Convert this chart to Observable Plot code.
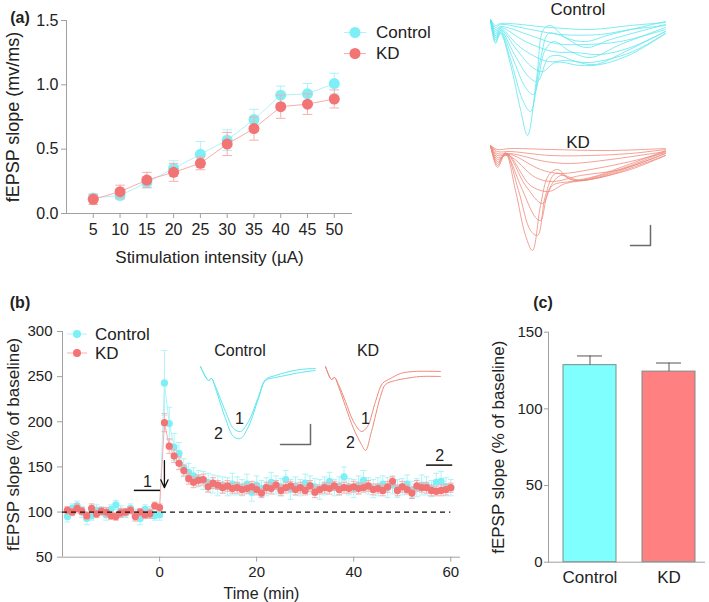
<!DOCTYPE html>
<html>
<head>
<meta charset="utf-8">
<script src="https://cdn.jsdelivr.net/npm/d3@7"></script>
<script src="https://cdn.jsdelivr.net/npm/@observablehq/plot@0.6"></script>
<style>
  html,body{margin:0;padding:0;background:#fff;}
  #fig{position:relative;width:709px;height:602px;overflow:hidden;background:#fff;
       font-family:"Liberation Sans",Arial,Helvetica,sans-serif;color:#222;}
</style>
</head>
<body>
<div id="fig"></div>
<script>
// ================= DATA =================
const groups = ["Control", "KD"];

// (a) input-output curve
const intensities   = [5, 10, 15, 20, 25, 30, 35, 40, 45, 50];
const ioControl     = [0.12, 0.14, 0.24, 0.35, 0.46, 0.57, 0.73, 0.92, 0.93, 1.01];
const ioControlErr  = [0.03, 0.03, 0.04, 0.06, 0.10, 0.08, 0.08, 0.07, 0.08, 0.08];
const ioKD          = [0.11, 0.17, 0.26, 0.32, 0.39, 0.54, 0.66, 0.83, 0.85, 0.89];
const ioKDErr       = [0.04, 0.05, 0.06, 0.07, 0.05, 0.09, 0.09, 0.09, 0.08, 0.07];
const ioTicksY      = [0, 0.5, 1.0, 1.5];

// (b) LTP time course
const ltpTime = [-19,-18,-17,-16,-15,-14,-13,-12,-11,-10,-9,-8,-7,-6,-5,-4,-3,-2,-1,0,
  1,2,3,4,5,6,7,8,9,10,11,12,13,14,15,16,17,18,19,20,
  21,22,23,24,25,26,27,28,29,30,31,32,33,34,35,36,37,38,39,40,
  41,42,43,44,45,46,47,48,49,50,51,52,53,54,55,56,57,58,59,60];
const ltpControl = [95,104,107,100,93,96,102,101,97,103,108,101,99,104,97,93,103,100,96,97,
  243,198,172,165,149,144,140,137,135,133,
  131,129,130,128,131,129,127,131,122,130,
  126,128,133,130,128,136,125,129,127,132,
  130,128,125,129,134,127,129,139,128,126,
  130,135,129,126,128,131,127,130,126,128,
  131,125,127,130,129,126,133,134,128,127];
const ltpControlErr = [6,5,5,6,7,5,6,5,6,5,5,6,5,5,6,7,5,6,5,6,
  36,18,15,12,10,10,9,9,10,10,
  10,11,9,10,12,10,9,11,10,10,
  9,10,11,10,9,10,11,10,9,10,
  10,9,11,10,10,9,10,11,9,10,
  10,11,9,10,10,9,11,10,10,9,
  10,9,10,11,10,9,10,11,10,9];
const ltpKD = [102,100,104,101,96,104,98,101,100,96,95,99,100,102,95,100,97,98,107,105,
  199,173,162,154,146,137,133,135,136,128,
  132,130,127,129,126,127,125,126,128,125,
  121,127,126,130,124,127,129,125,127,124,
  129,122,125,127,126,129,125,127,126,128,
  126,127,129,125,126,124,128,134,124,128,
  125,121,129,127,127,124,123,124,125,127];
const ltpKDErr = [4,4,5,4,4,5,4,4,5,4,4,5,4,4,5,4,4,5,4,4,
  10,8,7,7,6,6,6,6,6,6,
  6,5,6,6,5,6,6,5,6,6,
  5,6,6,5,6,6,5,6,6,5,
  6,6,5,6,6,5,6,6,5,6,
  6,5,6,6,5,6,6,5,6,6,
  5,6,6,5,6,6,5,6,6,5];
const ltpTicksX = [0, 20, 40, 60];
const ltpTicksY = [50, 100, 150, 200, 250, 300];
const baselineLevel = [100];
const periodMarks = [
  {label: "1", t1: -5.2, t2: 0.2, y: 124},
  {label: "2", t1: 55, t2: 60.4, y: 152}
];
const hfsArrow = [{t: 1, from: 157, to: 127}];

// (c) bar chart
const barMean = [128.5, 124.3];
const barErr  = [6.0, 5.6];
const barTicksY = [0, 50, 100, 150];

// example traces [ms, mV]
const ioTracesControl = [
  [[0,0],[0.5,-0.06],[1,-0.04],[6,-0.08],[10,-0.1],[14,-0.06],[17.5,-0.03]],
  [[0,0],[0.5,-0.08],[1,-0.05],[4,-0.1],[7,-0.15],[11,-0.15],[14,-0.1],[17.5,-0.06]],
  [[0,0],[0.5,-0.1],[1,-0.07],[4,-0.16],[6.5,-0.24],[9.5,-0.25],[13,-0.22],[17.5,-0.1]],
  [[0,0],[0.5,-0.12],[1,-0.08],[3.5,-0.22],[6.2,-0.32],[8.5,-0.33],[11,-0.35],[14,-0.28],[17.5,-0.12]],
  [[0,0],[0.5,-0.14],[1,-0.09],[3,-0.28],[5.7,-0.42],[7.5,-0.41],[10,-0.43],[14,-0.33],[17.5,-0.14]],
  [[0,0],[0.5,-0.16],[1,-0.1],[2.6,-0.3],[4.2,-0.48],[5.2,-0.52],[6.5,-0.43],[9,-0.46],[11,-0.45],[14,-0.35],[17.5,-0.14]],
  [[0,0],[0.5,-0.18],[1,-0.11],[2.4,-0.35],[3.8,-0.57],[4.7,-0.62],[5.8,-0.38],[6.8,-0.36],[8.5,-0.42],[10.5,-0.45],[13.5,-0.32],[17.5,-0.12]],
  [[0,0],[0.5,-0.2],[1,-0.12],[2.2,-0.38],[3.5,-0.68],[4.3,-0.75],[5.4,-0.32],[6.3,-0.22],[8,-0.32],[10,-0.38],[13,-0.25],[17.5,-0.08]],
  [[0,0],[0.5,-0.22],[1,-0.13],[2,-0.4],[3.2,-0.8],[4,-0.92],[5,-0.4],[5.8,-0.14],[7,-0.16],[9.5,-0.28],[12,-0.2],[17.5,-0.05]],
  [[0,0],[0.5,-0.24],[1,-0.14],[2,-0.45],[3,-0.9],[3.7,-1.16],[4.6,-0.6],[5.3,-0.1],[6,-0.06],[7.5,-0.18],[9.5,-0.22],[12,-0.15],[17.5,-0.02]]
];
const ioTracesKD = [
  [[0,0],[0.7,-0.04],[2,-0.03],[6,-0.04],[12,-0.05],[17.5,-0.03]],
  [[0,0],[0.7,-0.06],[2,-0.06],[6,-0.1],[10,-0.1],[14,-0.08],[17.5,-0.04]],
  [[0,0],[0.7,-0.08],[2,-0.08],[5.5,-0.16],[8,-0.18],[12,-0.14],[17.5,-0.06]],
  [[0,0],[0.7,-0.1],[2,-0.09],[5,-0.24],[7,-0.28],[10,-0.24],[14,-0.16],[17.5,-0.07]],
  [[0,0],[0.7,-0.12],[1.8,-0.1],[4.5,-0.32],[6.2,-0.36],[9,-0.3],[13,-0.24],[17.5,-0.08]],
  [[0,0],[0.7,-0.14],[1.7,-0.09],[4,-0.4],[5.8,-0.46],[7.5,-0.38],[10,-0.34],[14,-0.24],[17.5,-0.1]],
  [[0,0],[0.7,-0.16],[1.6,-0.08],[3.5,-0.4],[5.2,-0.58],[6.2,-0.4],[8,-0.36],[11,-0.32],[17.5,-0.1]],
  [[0,0],[0.7,-0.18],[1.5,-0.08],[3,-0.4],[4.5,-0.72],[5,-0.75],[5.8,-0.45],[7,-0.3],[9,-0.35],[12,-0.28],[17.5,-0.08]],
  [[0,0],[0.7,-0.2],[1.5,-0.07],[2.8,-0.45],[4,-0.85],[4.7,-0.9],[5.5,-0.5],[6.5,-0.28],[8.5,-0.35],[11,-0.3],[14,-0.2],[17.5,-0.06]],
  [[0,0],[0.7,-0.22],[1.5,-0.08],[2.5,-0.45],[3.5,-0.9],[4.2,-1.05],[5,-0.6],[5.8,-0.3],[6.7,-0.24],[8,-0.34],[10,-0.32],[13,-0.22],[17.5,-0.05]]
];
const ltpTracesControl = [
  [[0,0],[0.8,-0.14],[1.1,-0.12],[1.5,-0.2],[2.5,-0.45],[3.3,-0.62],[4,-0.65],[4.8,-0.55],[5.8,-0.3],[6.5,-0.13],[7.5,-0.09],[8.5,-0.06],[10,-0.03],[11.5,-0.02]],
  [[0,0],[0.8,-0.14],[1.1,-0.12],[1.5,-0.22],[2.5,-0.52],[3.3,-0.7],[4,-0.72],[4.8,-0.6],[5.8,-0.32],[6.5,-0.14],[7.5,-0.11],[8.5,-0.09],[10,-0.06],[11.5,-0.04]]
];
const ltpTracesKD = [
  [[0,0],[0.6,-0.13],[0.9,-0.11],[1.3,-0.18],[2,-0.35],[2.8,-0.55],[3.6,-0.65],[4.2,-0.6],[5,-0.35],[5.7,-0.17],[6.5,-0.12],[7.5,-0.07],[8.8,-0.05],[11.5,-0.05]],
  [[0,0],[0.6,-0.13],[0.9,-0.11],[1.3,-0.2],[2,-0.4],[2.8,-0.62],[3.6,-0.78],[4,-0.84],[4.6,-0.65],[5.5,-0.3],[6,-0.18],[7,-0.14],[8,-0.12],[9.5,-0.1],[11.5,-0.1]]
];
const ioScaleBar  = [[14, -1.0], [16, -1.0], [16, -0.8]];
const ltpScaleBar = [[8, -0.78], [11, -0.78], [11, -0.58]];
const ltpTraceLabelsControl = [{t: 3.9, v: -0.52, text: "1"}, {t: 1.8, v: -0.67, text: "2"}];
const ltpTraceLabelsKD      = [{t: 4.0, v: -0.52, text: "1"}, {t: 2.5, v: -0.76, text: "2"}];

// ================= STYLE =================
const FONT = '"Liberation Sans", Arial, Helvetica, sans-serif';
const axisGray = "#a0a0a0";
const dotColor   = {Control: "#7DEFF6", KD: "#F27474"};
const lightColor = {Control: "#AEF4F8", KD: "#F6AEAE"};
const traceColor = {Control: "#5DE7EF", KD: "#EF8A7C"};
const barFill    = {Control: "#80FFFF", KD: "#FF8080"};

const fig = document.getElementById("fig");
const style = (size) => ({fontFamily: FONT, fontSize: size + "px", color: "#222", background: "transparent", overflow: "visible"});
function place(el, left, top) {
  el.style.position = "absolute"; el.style.left = left + "px"; el.style.top = top + "px";
  fig.append(el);
}
function addText(txt, x, y, size, {anchor = "middle", bold = false} = {}) {
  const el = document.createElement("div");
  el.textContent = txt;
  el.style.cssText = `position:absolute;left:${x}px;top:${y}px;font-size:${size}px;line-height:1;white-space:nowrap;` +
    `transform:translate(${anchor === "start" ? 0 : -50}%,-50%);font-weight:${bold ? "bold" : "normal"};`;
  fig.append(el);
}
function addLegendRow(cx, cy, r, half, g) {
  const ns = "http://www.w3.org/2000/svg";
  const svg = document.createElementNS(ns, "svg");
  svg.setAttribute("width", 2 * half + 2); svg.setAttribute("height", 2 * r + 4);
  svg.innerHTML = `<line x1="1" x2="${2 * half + 1}" y1="${r + 2}" y2="${r + 2}" stroke="${lightColor[g]}" stroke-width="1"/>` +
    `<circle cx="${half + 1}" cy="${r + 2}" r="${r}" fill="${dotColor[g]}"/>`;
  svg.style.position = "absolute"; svg.style.left = (cx - half - 1) + "px"; svg.style.top = (cy - r - 2) + "px";
  fig.append(svg);
}

function seriesMarks(rows, g, radius, capHalf) {
  const d = rows.filter(r => r.g === g);
  const c = lightColor[g];
  return [
    Plot.ruleX(d, {x: "x", y1: r => r.y - r.e, y2: r => r.y + r.e, stroke: c, strokeWidth: 1}),
    Plot.link(d, {x1: r => r.x - capHalf, x2: r => r.x + capHalf, y1: r => r.y + r.e, y2: r => r.y + r.e, stroke: c}),
    Plot.link(d, {x1: r => r.x - capHalf, x2: r => r.x + capHalf, y1: r => r.y - r.e, y2: r => r.y - r.e, stroke: c}),
    Plot.line(d, {x: "x", y: "y", stroke: c, strokeWidth: 1}),
    Plot.dot(d, {x: "x", y: "y", r: radius, fill: dotColor[g], stroke: "none"})
  ];
}
const yTitle = (text, dx, size) => Plot.text([text], {frameAnchor: "left", textAnchor: "middle", lineAnchor: "middle", rotate: -90, dx, fontSize: size, fill: "#222"});
const xTitle = (text, dy, size) => Plot.text([text], {frameAnchor: "bottom", textAnchor: "middle", lineAnchor: "middle", dy, fontSize: size, fill: "#222"});

// ================= PANEL (a) =================
const ioRows = groups.flatMap(g => intensities.map((x, i) => ({
  g, x,
  y: (g === "Control" ? ioControl : ioKD)[i],
  e: (g === "Control" ? ioControlErr : ioKDErr)[i]
})));
const plotA = Plot.plot({
  width: 360, height: 270, marginLeft: 66, marginRight: 8, marginTop: 20, marginBottom: 57,
  x: {domain: [0, 53.4]},
  y: {domain: [0, 1.5]},
  style: style(16),
  marks: [
    Plot.ruleX([0], {stroke: axisGray}),
    Plot.ruleY([0], {stroke: axisGray}),
    Plot.axisY({ticks: ioTicksY, tickFormat: d => d.toFixed(1), tickSize: 5, tickPadding: 3, stroke: axisGray, label: null}),
    Plot.axisX({ticks: intensities, tickSize: 5, tickPadding: 5, stroke: axisGray, label: null}),
    yTitle("fEPSP slope (mv/ms)", -53, 18),
    xTitle("Stimulation intensity (µA)", 44, 17),
    ...seriesMarks(ioRows, "Control", 5.5, 0.9),
    ...seriesMarks(ioRows, "KD", 5.5, 0.9)
  ]
});
place(plotA, 0, 0);

// (a) example traces
function tracePlot(traces, g, {width, height, xDomain, xRange, yDomain, yRange, bar, labels, strokeWidth}) {
  const rows = traces.flatMap((tr, k) => tr.map(([t, v]) => ({k, t, v})));
  const marks = [
    Plot.line(rows, {x: "t", y: "v", z: "k", stroke: traceColor[g], strokeWidth, curve: "catmull-rom"})
  ];
  if (bar) marks.push(Plot.line(bar, {x: d => d[0], y: d => d[1], stroke: "#6a6a6a", strokeWidth: 1.5}));
  if (labels) marks.push(Plot.text(labels, {x: "t", y: "v", text: "text", fontSize: 16, fill: "#222"}));
  return Plot.plot({
    width, height, margin: 0,
    x: {domain: xDomain, range: xRange, axis: null},
    y: {domain: yDomain, range: yRange, axis: null},
    style: style(16),
    marks
  });
}
const ioTraceOpts = {width: 220, height: 140, xDomain: [0, 17.5], xRange: [20, 195], yDomain: [0, -1.2], yRange: [19, 139], strokeWidth: 0.8};
place(tracePlot(ioTracesControl, "Control", ioTraceOpts), 470, 0);
place(tracePlot(ioTracesKD, "KD", {...ioTraceOpts, bar: ioScaleBar}), 470, 126);
addText("Control", 578, 9, 17);
addText("KD", 578, 142, 17);

// (a) legend
addLegendRow(355, 32, 5.5, 11, "Control");
addText("Control", 376, 32, 17, {anchor: "start"});
addLegendRow(355, 53, 5.5, 11, "KD");
addText("KD", 376, 53, 17, {anchor: "start"});

// ================= PANEL (b) =================
const ltpRows = groups.flatMap(g => ltpTime.map((t, i) => ({
  g, x: t,
  y: (g === "Control" ? ltpControl : ltpKD)[i],
  e: (g === "Control" ? ltpControlErr : ltpKDErr)[i]
})));
const plotB = Plot.plot({
  width: 470, height: 302, marginLeft: 62, marginRight: 10, marginTop: 31, marginBottom: 45.3,
  x: {domain: [-20, 62]},
  y: {domain: [50, 300]},
  style: style(15),
  marks: [
    Plot.ruleX([-20], {stroke: axisGray}),
    Plot.ruleY([50], {stroke: axisGray}),
    Plot.axisY({ticks: ltpTicksY, tickSize: 5, tickPadding: 5, stroke: axisGray, label: null}),
    Plot.axisX({ticks: ltpTicksX, tickSize: 5, tickPadding: 4, stroke: axisGray, label: null}),
    yTitle("fEPSP slope (% of baseline)", -49, 17),
    xTitle("Time (min)", 37, 16),
    ...seriesMarks(ltpRows, "Control", 3.6, 0.6),
    ...seriesMarks(ltpRows, "KD", 3.6, 0.6),
    Plot.ruleY(baselineLevel, {x1: -20, x2: 60, stroke: "#111", strokeDasharray: "5,4", strokeWidth: 1.3}),
    Plot.ruleY(periodMarks, {y: "y", x1: "t1", x2: "t2", stroke: "#111", strokeWidth: 1.5}),
    Plot.text(periodMarks, {x: d => (d.t1 + d.t2) / 2, y: "y", text: "label", dy: -9, fontSize: 16, fill: "#222"}),
    Plot.arrow(hfsArrow, {x1: "t", x2: "t", y1: "from", y2: "to", stroke: "#111", strokeWidth: 1.3, headLength: 10, headAngle: 50})
  ]
});
place(plotB, 0, 300);

// (b) legend
addLegendRow(77, 334, 4, 10, "Control");
addText("Control", 95, 334, 17, {anchor: "start"});
addLegendRow(77, 353, 4, 10, "KD");
addText("KD", 95, 353, 17, {anchor: "start"});

// (b) inset traces
const ltpTraceOpts = {height: 110, xDomain: [0, 11.5], xRange: [20, 135], yDomain: [0, -0.9], yRange: [20, 110], strokeWidth: 1};
place(tracePlot(ltpTracesControl, "Control", {...ltpTraceOpts, width: 145, bar: ltpScaleBar, labels: ltpTraceLabelsControl}), 180, 346);
place(tracePlot(ltpTracesKD, "KD", {...ltpTraceOpts, width: 150, labels: ltpTraceLabelsKD}), 305, 346);
addText("Control", 240, 351, 16);
addText("KD", 368, 351, 16);

// ================= PANEL (c) =================
const barRows = groups.map((g, i) => ({g, m: barMean[i], e: barErr[i]}));
const plotC = Plot.plot({
  width: 239, height: 302, marginLeft: 78, marginRight: 4, marginTop: 31.7, marginBottom: 40.3,
  x: {domain: groups, paddingInner: 0.325, paddingOuter: 0.144, align: 0.6},
  y: {domain: [0, 150]},
  color: {domain: groups, range: [barFill.Control, barFill.KD]},
  style: style(15),
  marks: [
    Plot.barY(barRows, {x: "g", y: "m", fill: "g", stroke: "#7d8b8b", strokeWidth: 1}),
    Plot.ruleX(barRows, {x: "g", y1: "m", y2: d => d.m + d.e, stroke: "#555"}),
    Plot.tickY(barRows, {x: "g", y: d => d.m + d.e, insetLeft: 14, insetRight: 14, stroke: "#555"}),
    Plot.ruleY([0], {stroke: axisGray}),
    Plot.frame({anchor: "left", stroke: axisGray}),
    Plot.axisY({ticks: barTicksY, tickSize: 4, tickPadding: 2, stroke: axisGray, label: null}),
    Plot.axisX({tickSize: 0, tickPadding: 9, label: null, fontSize: 17}),
    yTitle("fEPSP slope (% of baseline)", -50, 17)
  ]
});
place(plotC, 470, 300);

// panel letters
addText("(a)", 20, 18, 16, {bold: true});
addText("(b)", 20, 303, 16, {bold: true});
addText("(c)", 543, 303, 16, {bold: true});
</script>
</body>
</html>
